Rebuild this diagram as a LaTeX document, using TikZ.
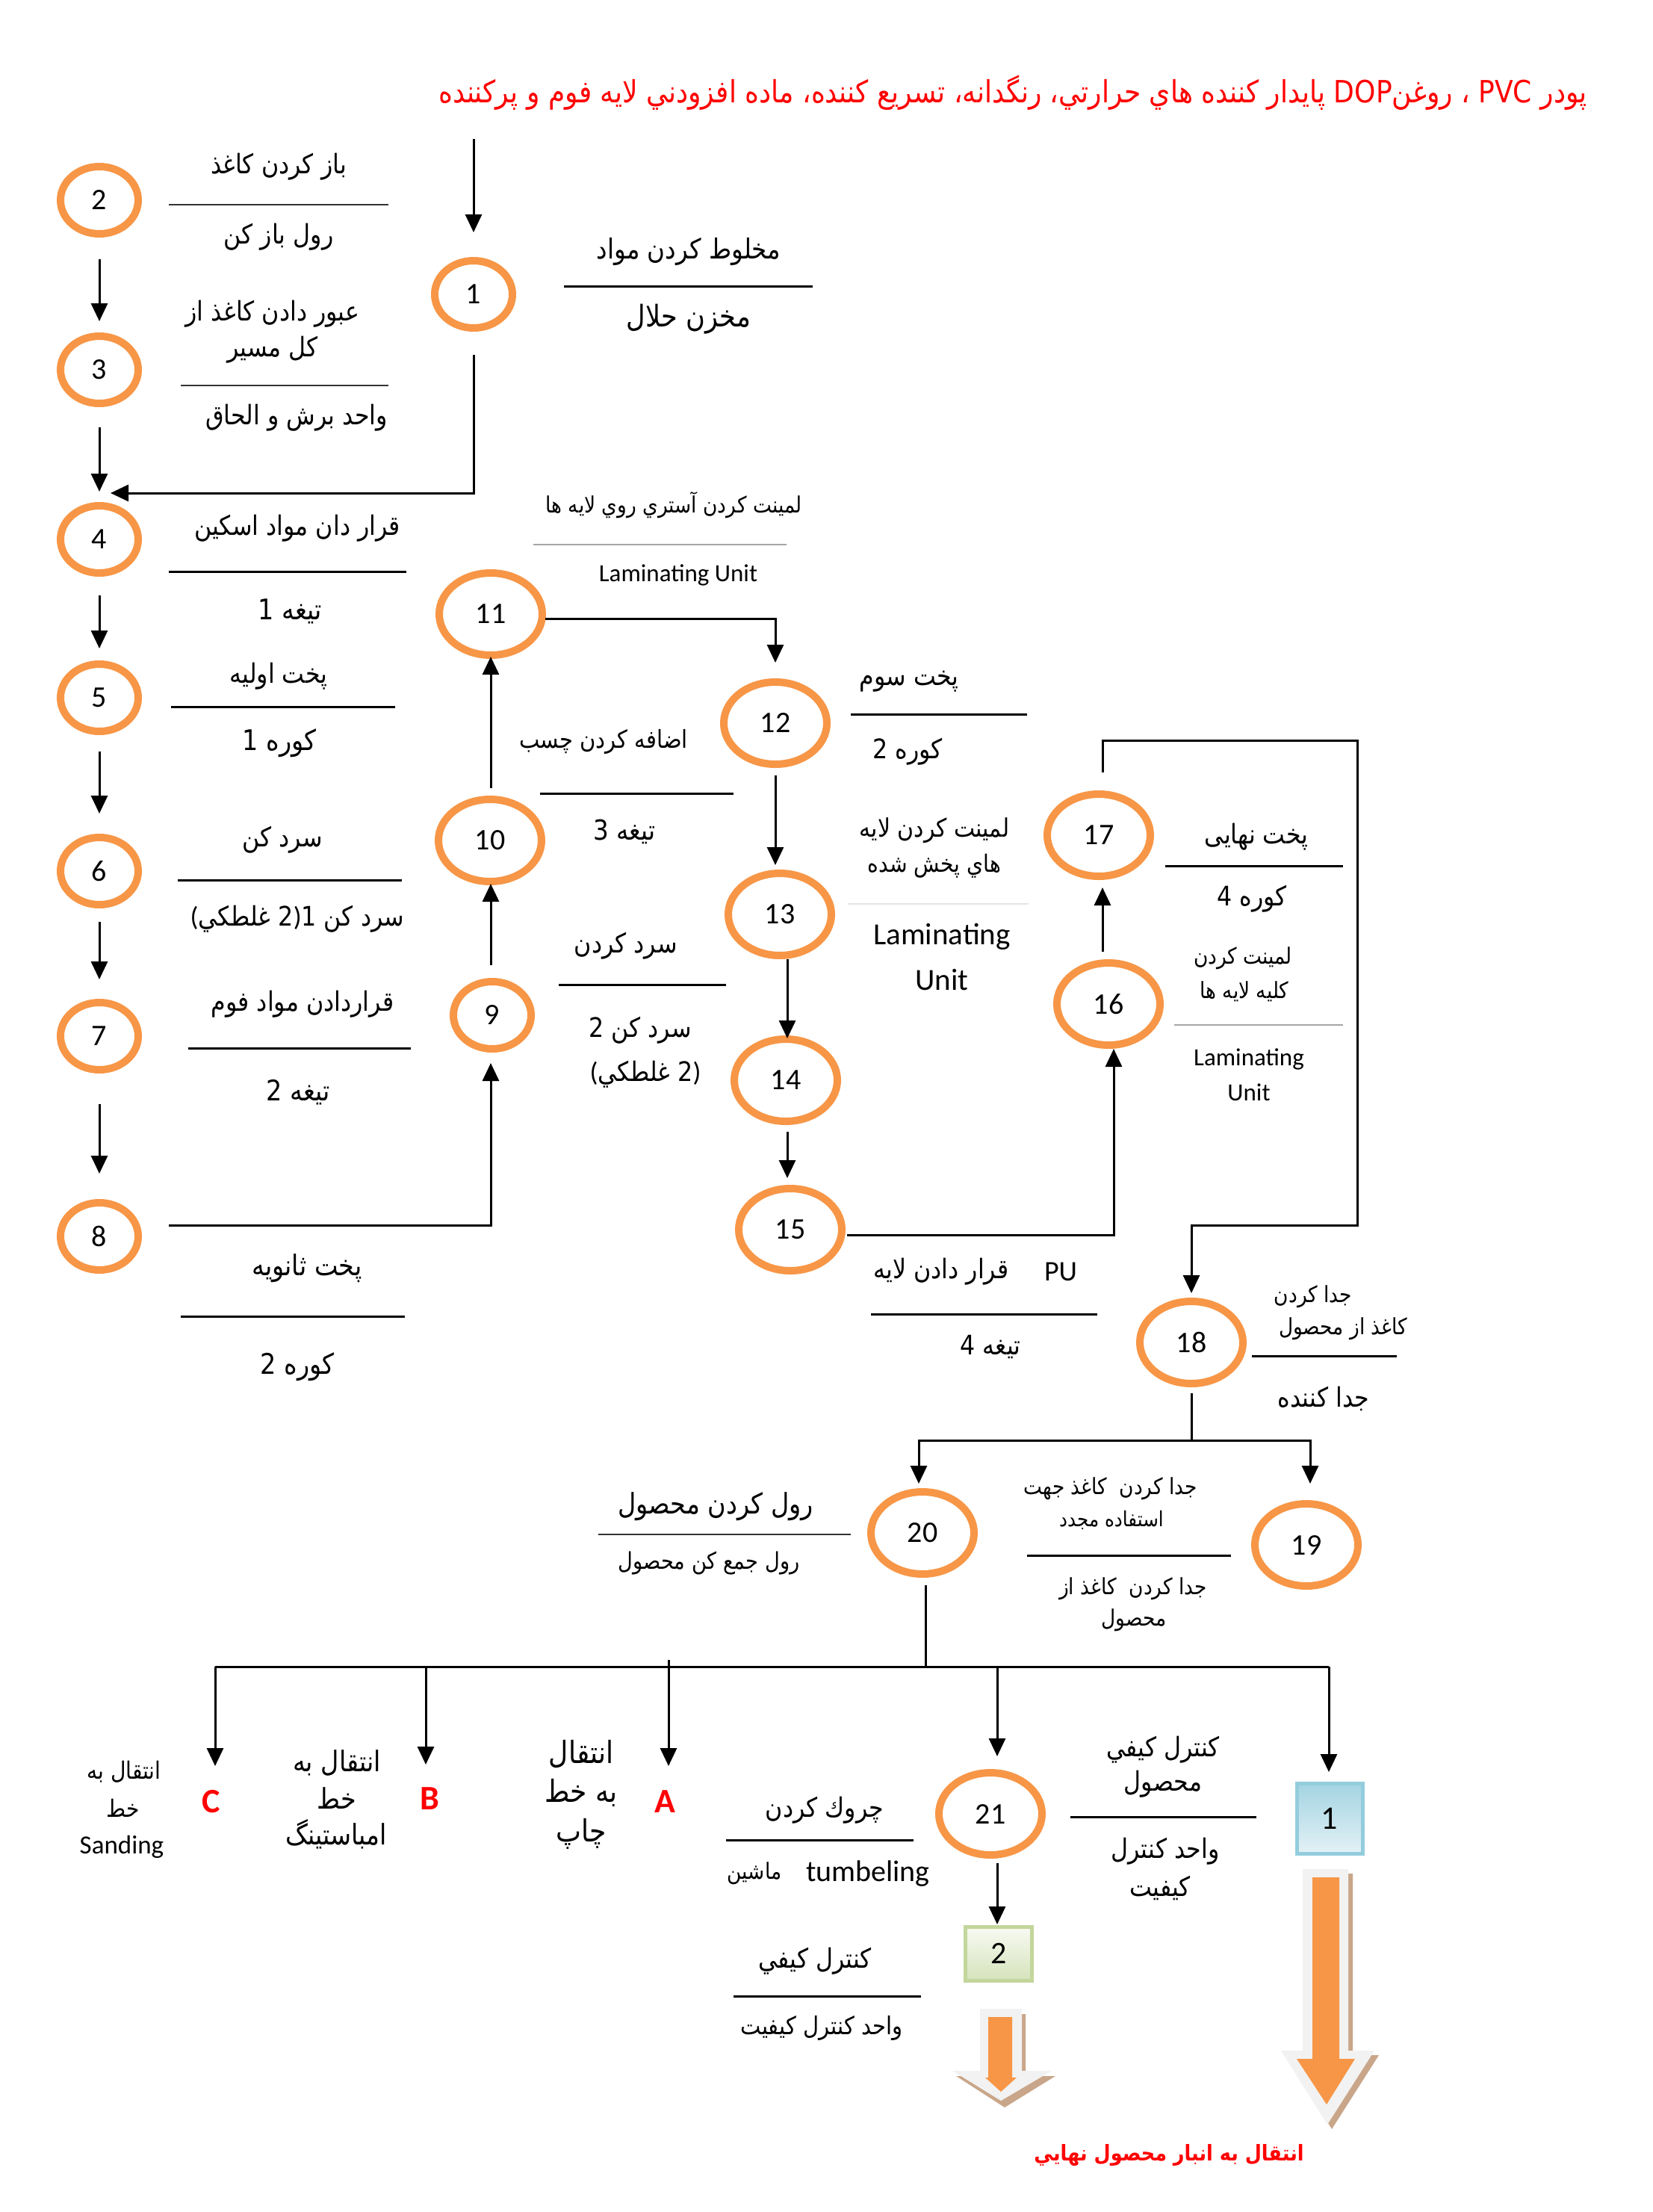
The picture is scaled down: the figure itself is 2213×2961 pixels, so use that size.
\documentclass[tikz,border=0pt]{standalone}
\usepackage{fontspec}
\setmainfont{Carlito}
\newfontfamily\ar[Script=Arabic,FakeStretch=0.88]{DejaVu Sans}
\TeXXeTstate=1
\usetikzlibrary{arrows.meta,shapes.geometric}
\definecolor{orng}{HTML}{F79646}
\definecolor{redt}{HTML}{FF0000}
\definecolor{tan}{HTML}{C9A68A}
\definecolor{lgray}{HTML}{F2F2F2}
\definecolor{bbord}{HTML}{93CDDD}
\definecolor{btop}{HTML}{A3D4E2}
\definecolor{bbot}{HTML}{E3F1F6}
\definecolor{gbord}{HTML}{C3D69B}
\definecolor{gtop}{HTML}{F8FAF3}
\definecolor{gbot}{HTML}{D5E3BB}
\newcommand\RT[1]{\beginR#1\endR}
\newcommand\LPar{{\rmfamily(}}
\newcommand\RPar{{\rmfamily)}}
\tikzset{
  smc/.style={ellipse, draw=orng, line width=10pt, minimum width=104pt, minimum height=90pt, inner sep=0pt, outer sep=0pt, font=\fontsize{40}{40}\selectfont},
  bgc/.style={ellipse, draw=orng, line width=10pt, minimum width=138pt, minimum height=110pt, inner sep=0pt, outer sep=0pt, font=\fontsize{40}{40}\selectfont},
  lbl/.style={inner sep=0pt, font=\ar\fontsize{#1}{#1}\selectfont},
  lbl/.default=36,
  lat/.style={inner sep=0pt, font=\fontsize{#1}{#1}\selectfont},
  lat/.default=36,
  arr/.style={line width=3pt, -{Triangle[length=24pt,width=22pt]}},
  ln/.style={line width=3pt},
  sepT/.style={line width=3pt},
  sepN/.style={line width=1.6pt, black!80},
  sepG/.style={line width=1.5pt, black!35},
  sepF/.style={line width=1.2pt, black!10},
  redl/.style={inner sep=0pt, text=redt, font=\bfseries\fontsize{46}{46}\selectfont},
}
\begin{document}
\begin{tikzpicture}[x=1pt,y=-1pt]
\fill[white] (0,0) rectangle (2213,2961);
\useasboundingbox (0,0) rectangle (2213,2961);

% title
\node[lbl=41, text=redt, anchor=east] (title) at (2125,124) {\RT{پودر PVC ، روغن\kern0pt DOP پايدار كننده هاي حرارتي، رنگدانه، تسريع كننده، ماده افزودني لايه فوم و پركننده}};

% circles
\node[smc] (c1) at (634,394) {1};
\node[smc] (c2) at (133,268) {2};
\node[smc] (c3) at (133,495) {3};
\node[smc] (c4) at (133,722) {4};
\node[smc] (c5) at (133,934) {5};
\node[smc] (c6) at (133,1166) {6};
\node[smc] (c7) at (133,1387) {7};
\node[smc] (c8) at (133,1655) {8};
\node[smc] (c9) at (659,1359) {9};
\node[bgc] (c10) at (656,1125) {10};
\node[bgc] (c11) at (657,822) {11};
\node[bgc] (c12) at (1038,968) {12};
\node[bgc] (c13) at (1044,1224) {13};
\node[bgc] (c14) at (1052,1446) {14};
\node[bgc] (c15) at (1058,1646) {15};
\node[bgc] (c16) at (1484,1344) {16};
\node[bgc] (c17) at (1471,1118) {17};
\node[bgc] (c18) at (1595,1797) {18};
\node[bgc] (c19) at (1749,2068) {19};
\node[bgc] (c20) at (1235,2052) {20};
\node[bgc] (c21) at (1326,2428) {21};

% boxes
\node[draw=bbord, line width=5pt, top color=btop, bottom color=bbot, minimum width=88pt, minimum height=94pt, inner sep=0pt, outer sep=0pt, font=\fontsize{44}{44}\selectfont] (b1) at (1780,2434) {1};
\node[draw=gbord, line width=5pt, top color=gtop, bottom color=gbot, minimum width=89pt, minimum height=72pt, inner sep=0pt, outer sep=0pt, font=\fontsize{42}{42}\selectfont] (b2) at (1337,2615) {2};

% coordinates
\coordinate (in1) at (634,186);
\coordinate (j4) at (148,660);
\coordinate (k1) at (1817,991);
\coordinate (k2) at (1817,1640);
\coordinate (bus18) at (1595,1928);
\coordinate (bus20) at (1239,2231);
\coordinate (busL) at (288,2231);
\coordinate (busR) at (1779,2231);
\coordinate (busB) at (570,2231);
\coordinate (busA) at (895,2222);
\coordinate (bus21) at (1335,2231);
\coordinate (tC) at (288,2364);
\coordinate (tB) at (570,2362);
\coordinate (tA) at (895,2364);

% connectors
\draw[arr, shorten >=38pt] (in1) -- (c1.north);
\draw[arr] ([yshift=-36pt]c1.south) |- (j4);
\draw[arr, shorten <=34pt, shorten >=20pt] (c2.south) -- (c3.north);
\draw[arr, shorten <=32pt, shorten >=19pt] (c3.south) -- (c4.north);
\draw[arr, shorten <=30pt, shorten >=21pt] (c4.south) -- (c5.north);
\draw[arr, shorten <=27pt, shorten >=32pt] (c5.south) -- (c6.north);
\draw[arr, shorten <=23pt, shorten >=31pt] (c6.south) -- (c7.north);
\draw[arr, shorten <=46pt, shorten >=39pt] (c7.south) -- (c8.north);
\draw[arr] ([xshift=41pt,yshift=15pt]c8.east) -| ([xshift=-2pt,yshift=-19pt]c9.south);
\draw[arr] ([xshift=-2pt,yshift=22pt]c9.north) -- ([xshift=1pt,yshift=-3pt]c10.south);
\draw[arr] ([xshift=1pt,yshift=15pt]c10.north) -- ([yshift=-2pt]c11.south);
\draw[arr] ([xshift=4pt,yshift=-6pt]c11.east) -| ([yshift=26pt]c12.north);
\draw[arr] ([yshift=-15pt]c12.south) -- ([xshift=-6pt,yshift=11pt]c13.north);
\draw[arr] ([xshift=10pt,yshift=-5pt]c13.south) -- ([xshift=2pt,yshift=1pt]c14.north);
\draw[arr] ([xshift=2pt,yshift=-14pt]c14.south) -- ([xshift=-4pt,yshift=14pt]c15.north);
\draw[arr] ([xshift=7pt,yshift=-7pt]c15.east) -| ([xshift=7pt,yshift=-5pt]c16.south);
\draw[arr] ([xshift=-8pt,yshift=15pt]c16.north) -- ([xshift=5pt,yshift=-15pt]c17.south);
\draw[arr] ([xshift=5pt,yshift=29pt]c17.north) |- (k1) -- (k2) -| ([yshift=11pt]c18.north);
\draw[ln] ([yshift=-13pt]c18.south) -- (bus18);
\draw[arr] (bus18) -| ([xshift=-5pt,yshift=11pt]c20.north);
\draw[arr] (bus18) -| ([xshift=5pt,yshift=27pt]c19.north);
\draw[ln] ([xshift=4pt,yshift=-15pt]c20.south) -- (bus20);
\draw[ln] (busL) -- (busR);
\draw[arr] (busL) -- (tC);
\draw[arr] (busB) -- (tB);
\draw[arr] (busA) -- (tA);
\draw[arr] (bus21) -- ([xshift=9pt,yshift=22pt]c21.north);
\draw[arr] (busR) -- ([xshift=-1pt,yshift=15pt]b1.north);
\draw[arr] ([xshift=9pt,yshift=-11pt]c21.south) -- ([xshift=-2pt,yshift=3pt]b2.north);

% separator lines
\draw[sepN] (226,274) -- (520,274);
\draw[sepN] (242,516) -- (520,516);
\draw[sepT] (755,383) -- (1088,383);
\draw[sepG] (714,729) -- (1053,729);
\draw[sepT] (226,765) -- (544,765);
\draw[sepT] (229,946) -- (529,946);
\draw[sepT] (238,1178) -- (538,1178);
\draw[sepT] (252,1403) -- (550,1403);
\draw[sepT] (242,1762) -- (542,1762);
\draw[sepT] (723,1062) -- (982,1062);
\draw[sepT] (748,1318) -- (972,1318);
\draw[sepT] (1139,956) -- (1375,956);
\draw[sepF] (1135,1210) -- (1377,1210);
\draw[sepT] (1560,1159) -- (1798,1159);
\draw[sepG] (1572,1372) -- (1798,1372);
\draw[sepT] (1166,1759) -- (1469,1759);
\draw[sepT] (1676,1815) -- (1870,1815);
\draw[sepT] (1375,2082) -- (1648,2082);
\draw[sepN] (801,2054) -- (1139,2054);
\draw[sepT] (972,2463) -- (1223,2463);
\draw[sepT] (1433,2432) -- (1682,2432);
\draw[sepT] (982,2672) -- (1233,2672);

% labels
\node[lbl] (t2a) at (373,223) {\RT{باز كردن كاغذ}};
\node[lbl] (t2b) at (373,317) {\RT{رول باز كن}};
\node[lbl] (t3a) at (365,420) {\RT{عبور دادن كاغذ از}};
\node[lbl] (t3b) at (365,468) {\RT{كل مسير}};
\node[lbl] (t3c) at (397,559) {\RT{واحد برش و الحاق}};
\node[lbl=37] (t1a) at (922,337) {\RT{مخلوط كردن مواد}};
\node[lbl=40] (t1b) at (922,427) {\RT{مخزن حلال}};
\node[lbl=30] (t11a) at (902,676) {\RT{لمينت كردن آستري روي لايه ها}};
\node[lat=33] (t11b) at (908,770) {Laminating Unit};
\node[lbl] (t4a) at (398,707) {\RT{قرار دان مواد اسكين}};
\node[lbl=38] (t4b) at (388,818) {\RT{تيغه 1}};
\node[lbl] (t5a) at (373,905) {\RT{پخت اوليه}};
\node[lbl=38] (t5b) at (374,995) {\RT{كوره 1}};
\node[lbl] (t6a) at (378,1124) {\RT{سرد كن}};
\node[lbl] (t6b) at (398,1230) {\RT{سرد كن 1\RPar 2 غلطكي\LPar}};
\node[lbl] (t7a) at (405,1344) {\RT{قراردادن مواد فوم}};
\node[lbl=38] (t7b) at (399,1462) {\RT{تيغه 2}};
\node[lbl=38] (t8a) at (411,1698) {\RT{پخت ثانويه}};
\node[lbl=38] (t8b) at (398,1830) {\RT{كوره 2}};
\node[lbl=33] (t10a) at (808,993) {\RT{اضافه كردن چسب}};
\node[lbl=37] (t10b) at (836,1113) {\RT{تيغه 3}};
\node[lbl] (t9a) at (838,1266) {\RT{سرد كردن}};
\node[lbl] (t9b) at (857,1379) {\RT{سرد كن 2}};
\node[lbl] (t9c) at (864,1438) {\RT{\RPar 2 غلطكي\LPar}};
\node[lbl] (t12a) at (1217,912) {\RT{پخت سوم}};
\node[lbl] (t12b) at (1215,1006) {\RT{كوره 2}};
\node[lbl=34] (t13a) at (1251,1112) {\RT{لمينت كردن لايه}};
\node[lbl=32] (t13b) at (1251,1159) {\RT{هاي پخش شده}};
\node[lat=41] (t13c) at (1261,1254) {Laminating};
\node[lat=41] (t13d) at (1261,1312) {Unit};
\node[lbl] (t17a) at (1682,1120) {\RT{پخت نهايی}};
\node[lbl] (t17b) at (1676,1203) {\RT{كوره 4}};
\node[lbl=30] (t16a) at (1664,1283) {\RT{لمينت كردن}};
\node[lbl=30] (t16b) at (1666,1327) {\RT{كليه لايه ها}};
\node[lat=33] (t16c) at (1672,1418) {Laminating};
\node[lat=33] (t16d) at (1672,1462) {Unit};
\node[lbl] (t15a) at (1260,1702) {\RT{قرار دادن لايه}};
\node[lat=38] (t15b) at (1420,1702) {PU};
\node[lbl] (t15c) at (1326,1803) {\RT{تيغه 4}};
\node[lbl=30] (t18a) at (1758,1736) {\RT{جدا كردن}};
\node[lbl=30] (t18b) at (1798,1779) {\RT{كاغذ از محصول}};
\node[lbl] (t18c) at (1772,1872) {\RT{جدا كننده}};
\node[lbl=30] (t19a) at (1487,1993) {\RT{جدا كردن\ \ كاغذ جهت}};
\node[lbl=28] (t19b) at (1488,2035) {\RT{استفاده مجدد}};
\node[lbl=30] (t19c) at (1517,2127) {\RT{جدا كردن\ \ كاغذ از}};
\node[lbl=30] (t19d) at (1518,2169) {\RT{محصول}};
\node[lbl=38] (t20a) at (958,2017) {\RT{رول كردن محصول}};
\node[lbl=31] (t20b) at (949,2092) {\RT{رول جمع كن محصول}};
\node[lbl=32] (tCa) at (166,2372) {\RT{انتقال به}};
\node[lbl=32] (tCb) at (165,2420) {\RT{خط}};
\node[lat=35] (tCc) at (163,2472) {Sanding};
\node[redl] (lC) at (283,2412) {C};
\node[lbl=38] (tBa) at (451,2360) {\RT{انتقال به}};
\node[lbl=38] (tBb) at (451,2407) {\RT{خط}};
\node[lbl=38] (tBc) at (450,2455) {\RT{امباستينگ}};
\node[redl] (lB) at (575,2408) {B};
\node[lbl=41] (tAa) at (778,2348) {\RT{انتقال}};
\node[lbl=41] (tAb) at (778,2400) {\RT{به خط}};
\node[lbl=41] (tAc) at (778,2455) {\RT{چاپ}};
\node[redl] (lA) at (890,2412) {A};
\node[lbl] (t21a) at (1104,2423) {\RT{چروك كردن}};
\node[lbl=30] (t21b) at (1010,2508) {\RT{ماشين}};
\node[lat=40] (t21c) at (1162,2508) {tumbeling};
\node[lbl] (tq1a) at (1557,2342) {\RT{كنترل كيفي}};
\node[lbl] (tq1b) at (1557,2388) {\RT{محصول}};
\node[lbl] (tq1c) at (1560,2478) {\RT{واحد كنترل}};
\node[lbl] (tq1d) at (1553,2527) {\RT{كيفيت}};
\node[lbl] (tq2a) at (1091,2625) {\RT{كنترل كيفي}};
\node[lbl=33] (tq2b) at (1100,2715) {\RT{واحد كنترل كيفيت}};

% big arrows
\fill[tan] (1750,2508) -- (1811,2508) -- (1811,2751) -- (1846,2751) -- (1783,2850) -- (1721,2751) -- (1750,2751) -- cycle;
\fill[lgray] (1744,2502) -- (1805,2502) -- (1805,2745) -- (1840,2745) -- (1777,2844) -- (1715,2745) -- (1744,2745) -- cycle;
\fill[orng] (1757,2513) -- (1793,2513) -- (1793,2756) -- (1814,2756) -- (1776,2817) -- (1736,2756) -- (1757,2756) -- cycle;
\fill[tan] (1317,2696) -- (1373,2696) -- (1373,2779) -- (1413,2779) -- (1345,2821) -- (1280,2779) -- (1317,2779) -- cycle;
\fill[lgray] (1312,2689) -- (1368,2689) -- (1368,2772) -- (1408,2772) -- (1340,2812) -- (1275,2772) -- (1312,2772) -- cycle;
\fill[orng] (1323,2700) -- (1355,2700) -- (1355,2781) -- (1361,2781) -- (1340,2800) -- (1319,2781) -- (1323,2781) -- cycle;

% bottom red text
\node[inner sep=0pt, text=redt, font=\ar\bfseries\fontsize{29}{29}\selectfont] (tend) at (1565,2885) {\RT{انتقال به انبار محصول نهايي}};
\end{tikzpicture}
\end{document}
